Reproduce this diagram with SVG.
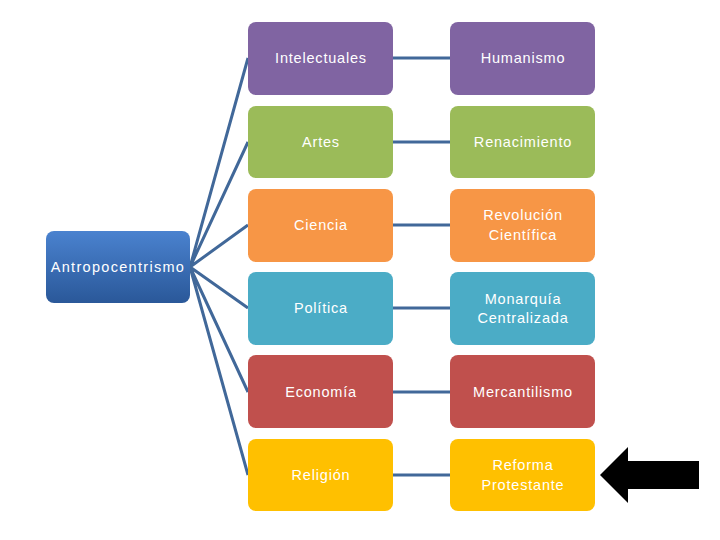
<svg xmlns="http://www.w3.org/2000/svg" width="720" height="540" viewBox="0 0 720 540">
<defs>
<linearGradient id="rootg" x1="0" y1="0" x2="0" y2="1">
<stop offset="0" stop-color="#4a82cf"/>
<stop offset="1" stop-color="#2a5899"/>
</linearGradient>
<style>
.box{stroke:none}
.t{font-family:"Liberation Sans",Arial,sans-serif;font-size:14.5px;letter-spacing:0.8px;fill:#ffffff;text-anchor:middle;dominant-baseline:central}
.c{stroke:#416899;stroke-width:3;fill:none}
</style>
</defs>
<rect width="720" height="540" fill="#ffffff"/>
<g id="connectors">
<path class="c" d="M190 267 L248 58 M190 267 L248 142 M190 267 L248 225 M190 267 L248 308 M190 267 L248 392 M190 267 L248 475"/>
<path class="c" d="M393 58 H450 M393 142 H450 M393 225 H450 M393 308 H450 M393 392 H450 M393 475 H450"/>
</g>
<g id="root">
<rect x="46" y="231" width="144" height="72" rx="8" fill="url(#rootg)"/>
<text class="t" x="118" y="267" style="letter-spacing:1.3px">Antropocentrismo</text>
</g>
<g id="intelectuales"><rect class="box" x="248" y="22" width="145" height="73" rx="8" fill="#8064a2"/><text class="t" x="321" y="58">Intelectuales</text></g>
<g id="humanismo"><rect class="box" x="450" y="22" width="145" height="73" rx="8" fill="#8064a2"/><text class="t" x="523" y="58">Humanismo</text></g>
<g id="artes"><rect class="box" x="248" y="106" width="145" height="72" rx="8" fill="#9bbb59"/><text class="t" x="321" y="142">Artes</text></g>
<g id="renacimiento"><rect class="box" x="450" y="106" width="145" height="72" rx="8" fill="#9bbb59"/><text class="t" x="523" y="142">Renacimiento</text></g>
<g id="ciencia"><rect class="box" x="248" y="189" width="145" height="73" rx="8" fill="#f79646"/><text class="t" x="321" y="225">Ciencia</text></g>
<g id="revolucion"><rect class="box" x="450" y="189" width="145" height="73" rx="8" fill="#f79646"/><text class="t" x="523" y="215">Revolución</text><text class="t" x="523" y="235">Científica</text></g>
<g id="politica"><rect class="box" x="248" y="272" width="145" height="73" rx="8" fill="#4bacc6"/><text class="t" x="321" y="308">Política</text></g>
<g id="monarquia"><rect class="box" x="450" y="272" width="145" height="73" rx="8" fill="#4bacc6"/><text class="t" x="523" y="299">Monarquía</text><text class="t" x="523" y="318">Centralizada</text></g>
<g id="economia"><rect class="box" x="248" y="355" width="145" height="73" rx="8" fill="#c0504d"/><text class="t" x="321" y="392">Economía</text></g>
<g id="mercantilismo"><rect class="box" x="450" y="355" width="145" height="73" rx="8" fill="#c0504d"/><text class="t" x="523" y="392">Mercantilismo</text></g>
<g id="religion"><rect class="box" x="248" y="439" width="145" height="72" rx="8" fill="#ffc000"/><text class="t" x="321" y="475">Religión</text></g>
<g id="reforma"><rect class="box" x="450" y="439" width="145" height="72" rx="8" fill="#ffc000"/><text class="t" x="523" y="465">Reforma</text><text class="t" x="523" y="485">Protestante</text></g>
<g id="arrow"><polygon points="600,475 628,447 628,461 699,461 699,489 628,489 628,503" fill="#000000"/></g>
</svg>
